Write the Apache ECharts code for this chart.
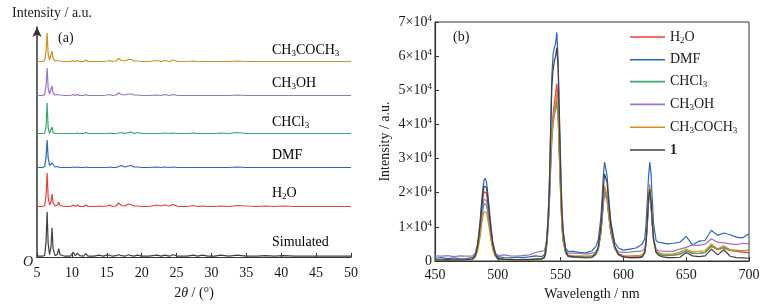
<!DOCTYPE html>
<html><head><meta charset="utf-8">
<script src="https://cdn.jsdelivr.net/npm/echarts@6/dist/echarts.min.js"></script>
<style>html,body{margin:0;padding:0;background:#fff}#c{width:775px;height:307px}</style>
</head><body><div id="c"></div>
<script>
// ---------- Panel (a): PXRD ----------
const theta = [5.0,5.8,6.1,6.3,6.45,6.6,6.8,7.0,7.15,7.3,7.6,7.95,8.1,8.3,9.0,9.8,10.2,10.5,10.8,11.1,11.7,12.0,12.3,13.2,13.9,14.5,15.0,15.4,15.8,16.3,16.7,17.1,17.6,18.1,18.5,18.9,19.4,20.0,21.0,22.2,22.8,23.3,24.0,24.5,25.2,26.5,27.4,28.0,28.7,29.5,30.5,31.3,32.5,33.7,35.0,36.5,37.7,39.0,40.3,42.0,44.0,46.0,48.0,50.0];
const xrdSimulated = [0.5,0.5,1.5,15,45,13,2,10,29,8, 1,2.5,8,2,0.5,0.5,4.5,1,3.5,1, 0.5,3,0.5,0.5,1.5,0.5,1.5,1.5,0.5,1, 2,1,0.5,2,1,0.5,1.5,0.5,0.5,1.5, 0.5,1.5,0.5,2,0.5,0.5,1.5,0.5,1.5,0.5, 0.5,1.5,0.5,1.5,0.5,0.5,1,0.5,1,0.5, 0.5,0.5,0.5,0.5];
const xrdH2O = [0.5,0.5,1.5,12,34,10,2,5,13,4, 1,2,5,1.5,0.5,0.5,2,0.5,2,0.5, 0.5,2,0.5,0.5,1,0.5,1,2,0.5,1, 4,1.5,1,3,2.5,1,1,0.5,0.5,2, 1,2,1,2.5,0.5,0.5,1.5,0.5,1,0.5, 0.5,1,0.5,1.5,1,0.5,1,0.5,1,0.5, 0.5,0.5,0.5,0.5];
const xrdDMF = [0.5,0.5,1.5,11,28,10,2.5,4.5,5,3.5, 1,1.5,2,0.5,0.5,0.5,1,0.5,1,0.5, 0.5,1,0.5,0.5,0.5,0.5,0.5,1,0.5,0.5, 1.5,2.5,1,2,2.5,1,1,0.5,0.5,1, 0.5,1,0.5,1,0.5,0.5,0.5,0.5,0.5,0.5, 0.5,0.5,0.5,1,0.5,0.5,0.5,0.5,0.5,0.5, 0.5,0.5,0.5,0.5];
const xrdCHCl3 = [0.5,0.5,0.5,8,31,6,0.5,1.5,7,1.5, 0.5,0.5,2,0.5,0.5,0.5,0.5,0.5,1,0.5, 0.5,1.5,0.5,0.5,0.5,0.5,0.5,1,0.5,0.5, 1,1.5,0.5,1.5,2,0.5,1.5,0.5,0.5,0.5, 0.5,1,0.5,1,0.5,0.5,1,0.5,0.5,0.5, 0.5,1,0.5,1.5,0.5,0.5,0.5,0.5,0.5,0.5, 0.5,0.5,0.5,0.5];
const xrdCH3OH = [0.5,0.5,1.5,11,28,8,2,4,10,3, 1,1.5,3,1,0.5,0.5,1.5,0.5,1.5,0.5, 0.5,1.5,0.5,0.5,0.5,0.5,1,1.5,0.5,1, 3,1.5,1,2,2,1,1,0.5,0.5,1, 0.5,1.5,0.5,1.5,0.5,0.5,0.5,0.5,0.5,0.5, 0.5,0.5,0.5,1,0.5,0.5,0.5,0.5,0.5,0.5, 0.5,0.5,0.5,0.5];
const xrdCH3COCH3 = [0.5,0.5,1.5,11,29,8,2,4,11,3.5, 1,1.5,3,1,0.5,0.5,1.5,0.5,1.5,0.5, 0.5,2,0.5,0.5,0.5,0.5,1,1.5,0.5,1, 3.5,1.5,1,2.5,2.5,1,1,0.5,0.5,1.5, 0.5,1.5,0.5,2,0.5,0.5,1,0.5,0.5,0.5, 0.5,0.5,0.5,1,0.5,0.5,0.5,0.5,0.5,0.5, 0.5,0.5,0.5,0.5];
const xrdOffsets = [0.3, 50, 89, 123, 161, 195]; // Simulated, H2O, DMF, CHCl3, CH3OH, CH3COCH3
const xrdTicks = [5,10,15,20,25,30,35,40,45,50];

// ---------- Panel (b): emission spectra ----------
const wavelength = [450,455,460,465,470,475,480,
 482,484,486,487,488,489,490,491,492,493,494,496,498,
 500,505,510,515,520,525,530,535,
 537,538,539,540,541,542,543,544,545,546,547,548,549,550,551,552,554,556,
 560,565,570,575,
 578,580,582,583,584,585,586,587,588,590,593,596,
 600,605,610,
 613,615,617,618,619,620,621,622,623,624,626,628,
 631,635,640,645,650,655,660,665,670,675,680,685,690,695,700];
const emH2O = [300,300,300,300,300,400,500,
 1400,4200,10200,14300,18000,20300,20800,19900,17100,13900,10200,4600,1800,
 700,500,400,400,400,400,500,600,
 900,2000,5000,9500,17000,28000,38000,43000,46000,49000,52000,46000,33000,21000,11500,6500,2500,1400,
 1200,1100,1000,1100,
 1900,3500,8200,12400,17300,21000,20800,18500,14800,8500,3800,1900,
 1300,1200,1200,
 1300,1500,2500,5000,10500,17500,21000,17000,11000,6500,3000,2300,
 1800,1800,1700,2000,3000,2300,2200,2500,4300,3300,3800,3000,2800,2600,2400];
const emDMF = [800,1000,700,900,600,700,1100,
 2000,5200,12000,16800,21000,23600,24200,23100,19900,16200,12000,5600,2500,
 1300,1000,900,1100,1000,1200,1500,1300,
 1800,3200,6500,12000,22000,38000,54000,60500,62500,63500,67000,59000,44000,29000,16000,9000,3800,2800,
 2800,2500,2400,3000,
 4200,6200,12500,18000,25000,29000,28500,25000,20000,11500,5500,3800,
 3200,3500,3800,
 4500,5000,6500,10500,17500,24500,29000,25500,18000,11000,6000,5500,
 5300,5000,5200,5500,7200,4700,5800,6000,9000,7500,8200,7700,7000,6800,8000];
const emCHCl3 = [300,300,300,300,300,400,500,
 1200,3500,8400,11800,14900,16800,17200,16400,14100,11500,8400,3800,1500,
 600,500,400,400,400,400,500,600,
 900,2000,4800,9000,16000,26000,35000,40000,42500,44500,46000,42000,31000,20000,10500,5800,2200,1300,
 1100,1000,900,1000,
 1800,3300,8000,12000,16800,20500,20300,18000,14400,8200,3600,1800,
 1100,1000,1000,
 1100,1300,2300,4800,10000,17000,20000,16500,10500,6000,2600,2000,
 1600,1600,1700,2000,3000,2200,2200,2500,4500,3500,4000,3300,3200,3000,3200];
const emCH3OH = [1500,1400,1600,1300,1500,1400,1500,
 2300,4700,9500,12900,16000,18100,18500,17700,15200,12400,9300,4500,2300,
 1600,1800,1500,1400,1600,1800,2500,2900,
 3000,3500,5800,10000,17000,27000,36000,41000,43500,45500,47000,42500,31500,20500,11000,6200,2900,2300,
 2300,2200,2000,2300,
 2600,3800,8200,12000,16500,19800,20000,17800,14200,8400,4000,2700,
 2500,2600,2800,
 2800,3000,3500,5800,10500,17000,20000,16500,11000,6500,3500,3000,
 2900,2800,2900,3500,4000,4700,4600,4900,6500,5500,5300,5000,4800,5200,5000];
const emCH3COCH3 = [300,300,300,300,300,400,500,
 1000,3000,7200,10200,12800,14500,14800,14200,12200,9900,7300,3300,1300,
 700,500,500,400,500,500,600,800,
 1300,3000,6500,12000,21000,30000,37000,41000,44000,46500,49000,44000,32000,20500,10500,5800,2400,1700,
 1600,1500,1400,1600,
 2100,3700,8600,13000,18200,22000,21800,19300,15300,8800,4000,2100,
 1600,1500,1600,
 1600,1800,2800,5800,11500,19000,22500,18000,11500,6500,3200,2500,
 2000,2000,2100,2600,3500,2700,2800,3000,5000,3500,4500,3300,3000,3000,3000];
const em1 = [300,300,400,300,300,400,600,
 1500,4500,11000,15500,19500,22000,22500,21500,18500,15000,11000,5000,2000,
 700,500,400,400,400,400,500,600,
 1000,2500,6000,12000,21000,36000,51000,56000,58500,60000,62500,57000,41500,26500,15000,8500,3000,1500,
 1200,1200,1100,1200,
 2200,4200,10000,15000,21000,25500,26000,23000,18500,10500,4500,2000,
 1200,1000,1000,
 1000,1200,2500,5500,11500,18500,21000,17500,11500,6500,2500,1700,
 1200,1000,1000,1100,2500,1500,1300,1500,3500,1800,3300,1400,1000,900,800];

const seriesNames = ['H2O','DMF','CHCl3','CH3OH','CH3COCH3','1'];
const xrdNames = ['Simulated','H2O','DMF','CHCl3','CH3OH','CH3COCH3'];

// ---------- styles ----------
const FONT = 'Liberation Serif';
const TXT = '#1a1a1a';
const AX = '#333333';
const colors = {H2O:'#e8403c', DMF:'#2767c5', CHCl3:'#3aa76a', CH3OH:'#9873c6', CH3COCH3:'#d4901a', '1':'#3f3f3f', Simulated:'#3f3f3f'};

function chem(name){
  if (name === '1') return '{b|1}';
  return name.replace(/(\d+)|(\D+)/g, (m, d, t) => d ? '{s|' + d + '}' : '{n|' + t + '}');
}
const richBase = {
  n: {fontFamily: FONT, fontSize: 14, lineHeight: 16, color: TXT},
  s: {fontFamily: FONT, fontSize: 9, lineHeight: 8, verticalAlign: 'bottom', color: TXT},
  b: {fontFamily: FONT, fontSize: 14, lineHeight: 16, fontWeight: 'bold', color: TXT},
  i: {fontFamily: FONT, fontSize: 14, lineHeight: 16, fontStyle: 'italic', color: TXT},
  p: {fontFamily: FONT, fontSize: 9, lineHeight: 8, verticalAlign: 'top', color: TXT}
};

const series = [];
xrdNames.forEach((nm, k) => {
  const vals = [xrdSimulated, xrdH2O, xrdDMF, xrdCHCl3, xrdCH3OH, xrdCH3COCH3][k];
  series.push({
    type: 'line', name: 'xrd-' + nm, xAxisIndex: 0, yAxisIndex: 0,
    symbol: 'none', silent: true,
    lineStyle: {color: colors[nm], width: 1.2},
    data: theta.map((t, i) => [t, vals[i] + xrdOffsets[k]])
  });
});
const emArrays = [emH2O, emDMF, emCHCl3, emCH3OH, emCH3COCH3, em1];
seriesNames.forEach((nm, k) => {
  series.push({
    type: 'line', name: nm, xAxisIndex: 1, yAxisIndex: 1,
    symbol: 'none', silent: true,
    color: colors[nm],
    lineStyle: {color: colors[nm], width: 1.2},
    data: wavelength.map((w, i) => [w, emArrays[k][i]])
  });
});

const labelY = {Simulated: 242, H2O: 193, DMF: 155, CHCl3: 122, CH3OH: 83, CH3COCH3: 50};
const graphics = xrdNames.map(nm => ({
  type: 'text', x: 272, y: labelY[nm],
  style: {text: nm === 'Simulated' ? '{n|Simulated}' : chem(nm), rich: richBase, verticalAlign: 'middle', align: 'left'}
}));
graphics.push(
  {type: 'text', x: 12, y: 13, style: {text: 'Intensity / a.u.', font: '14px "Liberation Serif"', fill: TXT, verticalAlign: 'middle'}},
  {type: 'text', x: 58, y: 38, style: {text: '(a)', font: '14px "Liberation Serif"', fill: TXT, verticalAlign: 'middle'}},
  {type: 'text', x: 453, y: 37, style: {text: '(b)', font: '14px "Liberation Serif"', fill: TXT, verticalAlign: 'middle'}},
  {type: 'text', x: 23, y: 262, style: {text: 'O', font: 'italic 14px "Liberation Serif"', fill: TXT, verticalAlign: 'middle'}}
);

const option = {
  animation: false,
  backgroundColor: '#ffffff',
  grid: [
    {left: 37, width: 314, top: 27, bottom: 50, containLabel: false},
    {left: 435, right: 26, top: 22, bottom: 46, containLabel: false, show: true, borderColor: AX, borderWidth: 1}
  ],
  xAxis: [
    {type: 'value', gridIndex: 0, min: 5, max: 50, interval: 5,
     axisLine: {lineStyle: {color: AX, width: 1.2}},
     axisTick: {inside: true, length: 4, lineStyle: {color: AX}},
     axisLabel: {fontFamily: FONT, fontSize: 14, color: TXT, margin: 9, formatter: v => xrdTicks.includes(v) ? String(v) : ''},
     splitLine: {show: false},
     name: '{n|2}{i|θ}{n| / (°)}', nameLocation: 'middle', nameGap: 28,
     nameTextStyle: {rich: richBase}},
    {type: 'value', gridIndex: 1, min: 450, max: 700, interval: 50,
     axisLine: {lineStyle: {color: AX, width: 1.2}},
     axisTick: {inside: true, length: 4, lineStyle: {color: AX}},
     axisLabel: {fontFamily: FONT, fontSize: 14, color: TXT, margin: 7},
     splitLine: {show: false},
     name: 'Wavelength / nm', nameLocation: 'middle', nameGap: 24,
     nameTextStyle: {fontFamily: FONT, fontSize: 14, color: TXT}}
  ],
  yAxis: [
    {type: 'value', gridIndex: 0, min: 0, max: 230,
     axisLine: {show: true, symbol: ['none', 'arrow'], symbolSize: [7, 10], lineStyle: {color: AX, width: 1.5}},
     axisTick: {show: false}, axisLabel: {show: false}, splitLine: {show: false}},
    {type: 'value', gridIndex: 1, min: 0, max: 70000, interval: 10000,
     axisLine: {lineStyle: {color: AX, width: 1.2}},
     axisTick: {inside: true, length: 4, lineStyle: {color: AX}},
     axisLabel: {margin: 3, formatter: v => v === 0 ? '{n|0}' : '{n|' + (v / 10000) + '×10}{p|4}', rich: richBase},
     splitLine: {show: false},
     name: 'Intensity / a.u.', nameLocation: 'middle', nameGap: 43,
     nameTextStyle: {fontFamily: FONT, fontSize: 14, color: TXT}}
  ],
  legend: {
    data: seriesNames, orient: 'vertical', left: 630, top: 30, padding: 0,
    itemWidth: 35, itemHeight: 14, itemGap: 7.8,
    icon: 'path://M0,7 L35,7 L35,8.6 L0,8.6 Z',
    formatter: chem,
    textStyle: {fontFamily: FONT, fontSize: 14, color: TXT, rich: richBase}
  },
  graphic: graphics,
  series: series
};

const chart = echarts.init(document.getElementById('c'), null, {renderer: 'canvas'});
chart.setOption(option);
</script></body></html>
